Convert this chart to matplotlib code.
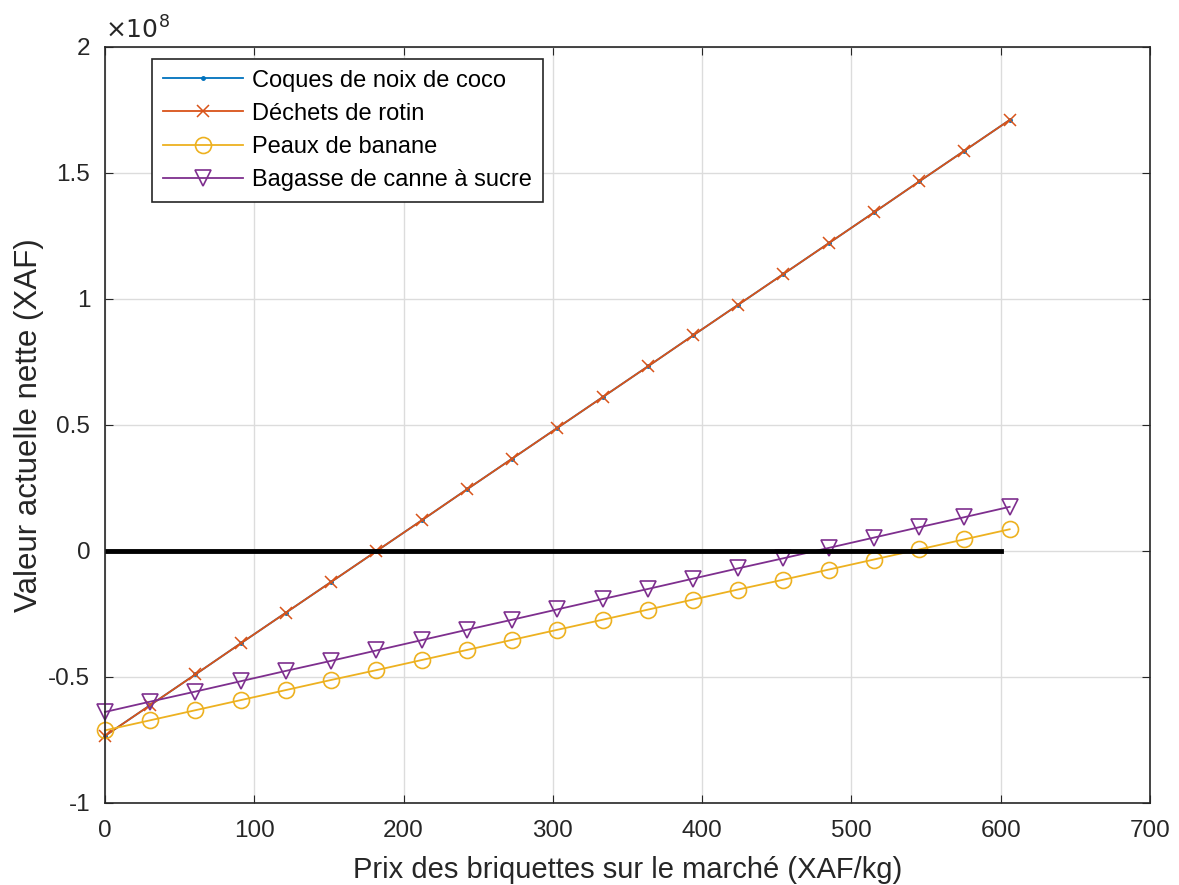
import numpy as np
from matplotlib import pyplot as plt

plt.rcParams['font.family'] = ['Liberation Sans', 'DejaVu Sans']

# prix des briquettes (XAF/kg)
prix = [0, 30.3, 60.6, 90.9, 121.2, 151.5, 181.8, 212.1, 242.4, 272.7, 303,
        333.3, 363.6, 393.9, 424.2, 454.5, 484.8, 515.1, 545.4, 575.7, 606]

# VAN en unites de 1e8 XAF
coco = [-0.734, -0.612, -0.490, -0.367, -0.245, -0.123, -0.001, 0.121, 0.244, 0.366, 0.488,
        0.610, 0.732, 0.855, 0.977, 1.099, 1.221, 1.343, 1.466, 1.588, 1.710]
rotin = [-0.734, -0.612, -0.490, -0.367, -0.245, -0.123, -0.001, 0.121, 0.244, 0.366, 0.488,
         0.610, 0.732, 0.855, 0.977, 1.099, 1.221, 1.343, 1.466, 1.588, 1.710]
banane = [-0.712, -0.672, -0.632, -0.592, -0.552, -0.512, -0.473, -0.433, -0.393, -0.353, -0.313,
          -0.273, -0.233, -0.193, -0.153, -0.114, -0.074, -0.034, 0.006, 0.046, 0.086]
bagasse = [-0.639, -0.598, -0.558, -0.517, -0.476, -0.436, -0.395, -0.354, -0.313, -0.273, -0.232,
           -0.191, -0.151, -0.110, -0.069, -0.029, 0.012, 0.053, 0.094, 0.134, 0.175]

labels = ["Coques de noix de coco", "Déchets de rotin", "Peaux de banane",
          "Bagasse de canne à sucre"]

x = np.array(prix)
fig = plt.figure(figsize=(11.79, 8.85), dpi=100)
ax = fig.add_axes([0.089, 0.0927, 0.8864, 0.8543])

ax.plot(x, np.array(coco)*1e8, color='#0072BD', marker='.', ms=5, lw=1.3, label=labels[0], clip_on=False)
ax.plot(x, np.array(rotin)*1e8, color='#D95319', marker='x', ms=9, mew=1.1, lw=1.3, label=labels[1], clip_on=False)
ax.plot(x, np.array(banane)*1e8, color='#EDB120', marker='o', ms=11.5, mfc='none', mew=1.2, lw=1.3, label=labels[2], clip_on=False)
ax.plot(x, np.array(bagasse)*1e8, color='#7E2F8E', marker='v', ms=11.5, mfc='none', mew=1.2, lw=1.3, label=labels[3], clip_on=False)
ax.plot([0, 600], [0, 0], color='k', lw=3.5)

ax.set_xlim(0, 700)
ax.set_ylim(-1e8, 2e8)
ax.set_xticks(np.arange(0, 701, 100))
ax.set_yticks(np.arange(-1e8, 2.01e8, 0.5e8))
ax.yaxis.set_major_formatter(plt.FuncFormatter(lambda v, p: f'{v/1e8:g}'))
ax.grid(True, color='#dcdcdc', lw=1)
ax.tick_params(direction='in', top=True, right=True, labelsize=17.5, colors='#262626', length=6)
ax.tick_params(axis='x', pad=12)
ax.tick_params(axis='y', pad=10.5)
for s in ax.spines.values():
    s.set_color('#262626')
    s.set_linewidth(1.2)

ax.text(0.0, 1.004, r'$\times10^{8}$', transform=ax.transAxes, fontsize=18, color='#262626',
        ha='left', va='bottom')
ax.set_xlabel("Prix des briquettes sur le marché (XAF/kg)", fontsize=21, color='#262626', labelpad=10)
ax.set_ylabel("Valeur actuelle nette (XAF)", fontsize=22.5, color='#262626', labelpad=3)

leg = ax.legend(loc='upper left', bbox_to_anchor=(0.045, 0.984), borderaxespad=0, fontsize=17,
                fancybox=False, framealpha=1, edgecolor='#262626', borderpad=0.45,
                labelspacing=0.47, handlelength=3.4, handletextpad=0.4)
leg.get_frame().set_linewidth(1.2)

plt.savefig('out.png', dpi=100)
